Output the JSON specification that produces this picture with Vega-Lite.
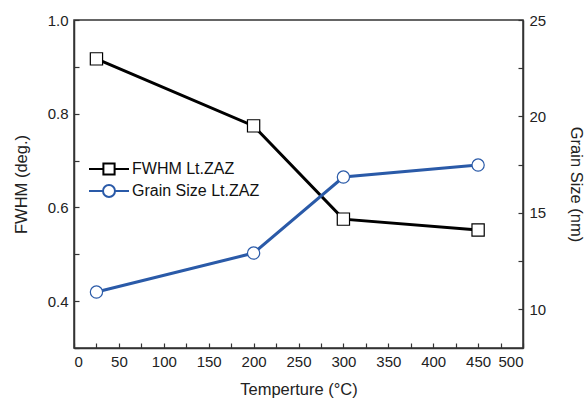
{
  "$schema": "https://vega.github.io/schema/vega-lite/v6.json",
  "width": 449,
  "height": 328,
  "autosize": {"type": "none"},
  "padding": {"left": 74, "top": 20, "right": 64, "bottom": 54},
  "background": "white",
  "config": {
    "view": {"stroke": "#333", "strokeWidth": 1.5},
    "font": "Liberation Sans",
    "axis": {
      "labelFont": "Liberation Sans",
      "titleFont": "Liberation Sans",
      "labelFontSize": 15,
      "titleFontSize": 16.5,
      "labelColor": "#222",
      "titleColor": "#222",
      "titleFontWeight": "normal",
      "grid": false,
      "domainColor": "#333",
      "domainWidth": 1.5,
      "tickColor": "#333",
      "tickWidth": 1.2,
      "tickSize": -5
    },
    "legend": {"labelFont": "Liberation Sans", "labelFontSize": 16}
  },
  "data": {
    "values": [
      {"temperature": 25, "fwhm": 0.917, "grain": 10.9},
      {"temperature": 200, "fwhm": 0.774, "grain": 12.92},
      {"temperature": 300, "fwhm": 0.575, "grain": 16.86},
      {"temperature": 450, "fwhm": 0.552, "grain": 17.48}
    ]
  },
  "encoding": {
    "x": {
      "field": "temperature",
      "type": "quantitative",
      "scale": {"domain": [0, 500], "nice": false},
      "axis": {
        "title": "Temperture (°C)",
        "values": [0, 25, 50, 75, 100, 125, 150, 175, 200, 225, 250, 275, 300, 325, 350, 375, 400, 425, 450, 475, 500],
        "labelExpr": "datum.value % 50 === 0 ? datum.label : ''",
        "labelPadding": 11,
        "titlePadding": 12
      }
    }
  },
  "layer": [
    {
      "encoding": {
        "y": {
          "field": "fwhm",
          "type": "quantitative",
          "scale": {"domain": [0.3, 1.0], "nice": false, "zero": false},
          "axis": {
            "title": "FWHM (deg.)",
            "orient": "left",
            "values": [0.3, 0.4, 0.5, 0.6, 0.7, 0.8, 0.9, 1.0],
            "labelExpr": "(round(datum.value*10) % 2 === 0 && datum.value > 0.35) ? format(datum.value, '.1f') : ''",
            "labelPadding": 11,
            "titlePadding": 18
          }
        }
      },
      "layer": [
        {
          "mark": {"type": "line", "strokeWidth": 3},
          "encoding": {
            "color": {
              "datum": "FWHM Lt.ZAZ",
              "scale": {"domain": ["FWHM Lt.ZAZ", "Grain Size Lt.ZAZ"], "range": ["#000000", "#2a5aa8"]},
              "legend": {
                "title": null,
                "orient": "none",
                "legendX": 14,
                "legendY": 138,
                "symbolSize": 400,
                "symbolOffset": 10,
                "symbolStrokeWidth": 2,
                "symbolFillColor": "white",
                "labelOffset": 12,
                "labelFontSize": 16,
                "labelColor": "#111",
                "rowPadding": 1,
                "encode": {
                  "symbols": {
                    "update": {
                      "shape": {"signal": "datum.value === 'FWHM Lt.ZAZ' ? 'M-2,0H-0.56M0.56,0H2M-0.56,-0.56H0.56V0.56H-0.56Z' : 'M-2,0H-0.6M0.6,0H2M0.6,0A0.6,0.6,0,1,1,-0.6,0A0.6,0.6,0,1,1,0.6,0Z'"},
                      "fill": {"value": "white"},
                      "fillOpacity": {"value": 1}
                    }
                  }
                }
              }
            }
          }
        },
        {
          "mark": {"type": "point", "shape": "square", "size": 150, "filled": true, "fill": "white", "stroke": "#000000", "strokeWidth": 1.2, "opacity": 1}
        }
      ]
    },
    {
      "encoding": {
        "y": {
          "field": "grain",
          "type": "quantitative",
          "scale": {"domain": [8, 25], "nice": false, "zero": false},
          "axis": {
            "title": "Grain Size (nm)",
            "orient": "right",
            "values": [10, 12.5, 15, 17.5, 20, 22.5, 25],
            "labelExpr": "datum.value % 5 === 0 ? datum.label : ''",
            "labelPadding": 11,
            "titlePadding": 22
          }
        }
      },
      "layer": [
        {
          "mark": {"type": "line", "strokeWidth": 3},
          "encoding": {"color": {"datum": "Grain Size Lt.ZAZ"}}
        },
        {
          "mark": {"type": "point", "shape": "circle", "size": 150, "filled": true, "fill": "white", "stroke": "#2a5aa8", "strokeWidth": 1.2, "opacity": 1}
        }
      ]
    }
  ],
  "resolve": {"scale": {"y": "independent"}}
}
